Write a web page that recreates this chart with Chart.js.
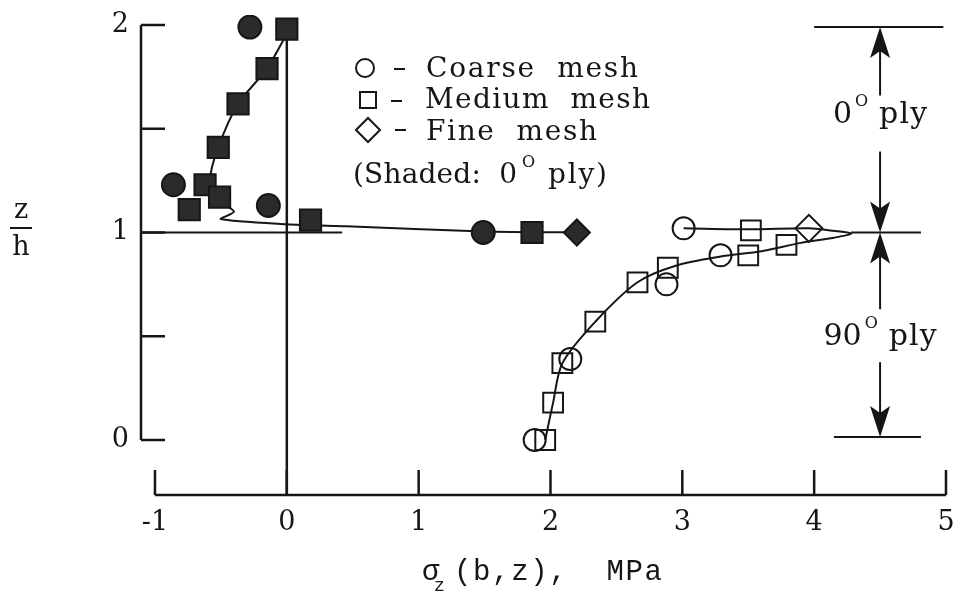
<!DOCTYPE html>
<html>
<head>
<meta charset="utf-8">
<script src="https://cdn.jsdelivr.net/npm/chart.js@4.4.1/dist/chart.umd.min.js"></script>
<style>
  html, body { margin: 0; padding: 0; background: #fff; }
</style>
</head>
<body>
<canvas id="chartStress" width="954" height="598"></canvas>
<script>
// sigma_z(b,z) in MPa against z/h, shaded marks are the 0 deg ply
const coarse0X = [-0.28, -0.86, -0.14, 1.49];
const coarse0Z = [1.99, 1.23, 1.13, 1.00];
const medium0X = [0.00, -0.15, -0.37, -0.52, -0.62, -0.51, -0.74, 0.18, 1.86];
const medium0Z = [1.98, 1.79, 1.62, 1.41, 1.23, 1.17, 1.11, 1.06, 1.00];
const fine0X = [2.20];
const fine0Z = [1.00];

const coarse90X = [1.88, 2.15, 2.88, 3.29, 3.01];
const coarse90Z = [0.00, 0.39, 0.75, 0.89, 1.02];
const medium90X = [1.96, 2.02, 2.09, 2.34, 2.66, 2.89, 3.50, 3.79, 3.52];
const medium90Z = [0.00, 0.18, 0.37, 0.57, 0.76, 0.83, 0.89, 0.94, 1.01];
const fine90X = [3.96];
const fine90Z = [1.02];

// faired curves through the medium mesh results
const curve0X = [0.02, -0.15, -0.37, -0.52, -0.58, -0.52, -0.40, -0.50, 0.00, 0.45, 1.49, 2.30];
const curve0Z = [1.98, 1.79, 1.62, 1.41, 1.26, 1.16, 1.10, 1.065, 1.04, 1.03, 1.005, 1.00];
const curve90X = [1.96, 2.02, 2.09, 2.34, 2.66, 2.95, 3.30, 3.60, 3.90, 4.15, 4.28, 4.12, 3.96, 3.52, 3.01];
const curve90Z = [0.00, 0.18, 0.37, 0.57, 0.76, 0.84, 0.885, 0.91, 0.95, 0.975, 0.995, 1.01, 1.02, 1.015, 1.02];

const xTicks = [-1, 0, 1, 2, 3, 4, 5];
const zTicks = [0, 0.5, 1, 1.5, 2];
const zLabelled = [0, 1, 2];

// ply interface / boundary lines  [x0, x1, z]
const plyLines = [[-1.106, 0.42, 1.0], [4.28, 4.81, 1.0], [4.0, 4.98, 1.99], [4.15, 4.81, 0.015]];
// dimension arrows  [x, zFrom, zTip]
const plyArrows = [[4.5, 1.66, 1.99], [4.5, 1.39, 1.0], [4.5, 0.63, 1.0], [4.5, 0.375, 0.015]];
const plyLabels = [['0', 1.528], ['90', 0.458]];

const xMin = -1.106, xMax = 5.038, zMin = -0.265, zMax = 2.048;
const ink = '#161616';
const shade = '#2b2b2b';
const serif = '"DejaVu Serif", serif';

function pts(xs, zs) { return xs.map((x, i) => ({ x: x, y: zs[i] })); }

function marks(label, xs, zs, style, r, filled) {
    return {
        label: label, data: pts(xs, zs), showLine: false, order: 0,
        pointStyle: style, pointRadius: r, pointHoverRadius: r, borderWidth: 2,
        borderColor: ink, backgroundColor: filled ? shade : 'rgba(0,0,0,0)'
    };
}

function curve(label, xs, zs, tension) {
    return {
        label: label, data: pts(xs, zs), showLine: true, order: 2, tension: tension,
        pointRadius: 0, borderWidth: 2, borderColor: ink, fill: false
    };
}

// draw text spread out to a given width
function spread(ctx, text, x, y, width) {
    ctx.letterSpacing = '0px';
    const n = text.length;
    const w = ctx.measureText(text).width;
    const sp = n > 1 ? (width - w) / (n - 1) : 0;
    ctx.letterSpacing = sp + 'px';
    ctx.fillText(text, x, y);
    ctx.letterSpacing = '0px';
    return x + width;
}

function arrowHead(ctx, x, yTip, dir) {
    ctx.beginPath();
    ctx.moveTo(x, yTip);
    ctx.lineTo(x - 10, yTip + dir * 31);
    ctx.lineTo(x, yTip + dir * 24);
    ctx.lineTo(x + 10, yTip + dir * 31);
    ctx.closePath();
    ctx.fill();
}

const frame = {
    id: 'frame',
    beforeDatasetsDraw(chart) {
        const ctx = chart.ctx, xs = chart.scales.x, ys = chart.scales.y;
        const left = chart.chartArea.left, bottom = chart.chartArea.bottom;
        ctx.save();
        ctx.strokeStyle = ink;
        ctx.lineWidth = 2.5;
        ctx.beginPath();
        ctx.moveTo(xs.getPixelForValue(-1), bottom);
        ctx.lineTo(xs.getPixelForValue(5), bottom);
        xTicks.forEach(v => {
            const px = xs.getPixelForValue(v);
            ctx.moveTo(px, bottom);
            ctx.lineTo(px, bottom - 25);
        });
        ctx.moveTo(left, ys.getPixelForValue(0));
        ctx.lineTo(left, ys.getPixelForValue(2));
        zTicks.forEach(v => {
            const py = ys.getPixelForValue(v);
            ctx.moveTo(left, py);
            ctx.lineTo(left + 24, py);
        });
        ctx.stroke();
        ctx.restore();
    },
    afterDraw(chart) {
        const ctx = chart.ctx, xs = chart.scales.x, ys = chart.scales.y;
        ctx.save();
        ctx.fillStyle = ink;
        ctx.strokeStyle = ink;

        // arrows and ply names on the right
        ctx.lineWidth = 2;
        plyArrows.forEach(a => {
            const px = xs.getPixelForValue(a[0]);
            const y0 = ys.getPixelForValue(a[1]), y1 = ys.getPixelForValue(a[2]);
            const dir = y0 > y1 ? 1 : -1;
            ctx.beginPath();
            ctx.moveTo(px, y0);
            ctx.lineTo(px, y1 + dir * 20);
            ctx.stroke();
            arrowHead(ctx, px, y1, dir);
        });
        ctx.textBaseline = 'alphabetic';
        ctx.textAlign = 'left';
        plyLabels.forEach(p => {
            const cx = xs.getPixelForValue(4.5), by = ys.getPixelForValue(p[1]);
            ctx.font = '30px ' + serif;
            const wNum = ctx.measureText(p[0]).width;
            const total = wNum + 3 + 12 + 12 + 48;
            let x = cx - total / 2;
            ctx.fillText(p[0], x, by);
            x += wNum + 3;
            ctx.font = '16px ' + serif;
            ctx.fillText('O', x, by - 17);
            x += 24;
            ctx.font = '30px ' + serif;
            spread(ctx, 'ply', x, by, 48);
        });

        // legend
        ctx.lineWidth = 2;
        ctx.beginPath();
        ctx.arc(365, 68, 9, 0, Math.PI * 2);
        ctx.stroke();
        ctx.strokeRect(360, 92, 16, 16);
        ctx.beginPath();
        ctx.moveTo(356, 130); ctx.lineTo(368, 118); ctx.lineTo(380, 130); ctx.lineTo(368, 142);
        ctx.closePath();
        ctx.stroke();
        ctx.fillRect(394, 68, 11, 2);
        ctx.fillRect(391, 100, 11, 2);
        ctx.fillRect(395, 129, 11, 2);
        ctx.font = '28px ' + serif;
        spread(ctx, 'Coarse  mesh', 426, 77, 212);
        spread(ctx, 'Medium  mesh', 425, 108, 225);
        spread(ctx, 'Fine  mesh', 426, 140, 171);
        spread(ctx, '(Shaded:  0', 353, 183, 164);
        ctx.font = '16px ' + serif;
        ctx.fillText('O', 522, 167);
        ctx.font = '28px ' + serif;
        spread(ctx, 'ply)', 548, 183, 59);

        // axis titles
        ctx.font = '27px ' + serif;
        ctx.textAlign = 'center';
        ctx.fillText('z', 21, 218);
        ctx.fillText('h', 21, 255);
        ctx.fillRect(10, 227, 22, 2);

        ctx.textAlign = 'left';
        ctx.font = '29px "Liberation Mono", monospace';
        ctx.fillText('\u03c3', 422, 580);
        ctx.font = '18px "Liberation Mono", monospace';
        ctx.fillText('z', 434, 591);
        ctx.font = '29px "Liberation Mono", monospace';
        spread(ctx, '(b,z),  MPa', 454, 580, 208);
        ctx.restore();
    }
};

const datasets = [
    marks('Coarse mesh, 0\u00b0 ply', coarse0X, coarse0Z, 'circle', 11.5, true),
    marks('Medium mesh, 0\u00b0 ply', medium0X, medium0Z, 'rect', 15, true),
    marks('Fine mesh, 0\u00b0 ply', fine0X, fine0Z, 'rectRot', 13, true),
    marks('Coarse mesh, 90\u00b0 ply', coarse90X, coarse90Z, 'circle', 11, false),
    marks('Medium mesh, 90\u00b0 ply', medium90X, medium90Z, 'rect', 14, false),
    marks('Fine mesh, 90\u00b0 ply', fine90X, fine90Z, 'rectRot', 13.5, false),
    curve('0\u00b0 ply curve', curve0X, curve0Z, 0.25),
    curve('90\u00b0 ply curve', curve90X, curve90Z, 0.3),
    {
        label: 'z axis', data: [{ x: 0, y: 2.02 }, { x: 0, y: zMin }], showLine: true, order: 3,
        pointRadius: 0, borderWidth: 2.5, borderColor: ink
    }
];
plyLines.forEach((l, i) => {
    datasets.push({
        label: 'ply line ' + i, data: [{ x: l[0], y: l[2] }, { x: l[1], y: l[2] }], showLine: true,
        order: 3, pointRadius: 0, borderWidth: 2, borderColor: ink
    });
});

// keep the plot box fixed; tick labels may run past it
function noOverhang(s) {
    s.paddingLeft = 0; s.paddingRight = 0; s.paddingTop = 0; s.paddingBottom = 0;
}

const ctx = document.getElementById('chartStress').getContext('2d');
new Chart(ctx, {
    type: 'scatter',
    data: { datasets: datasets },
    options: {
        responsive: false,
        animation: false,
        devicePixelRatio: 1,
        layout: { autoPadding: false, padding: { top: 15, right: 3, left: 0, bottom: 0 } },
        plugins: { legend: { display: false }, tooltip: { enabled: false } },
        scales: {
            x: {
                type: 'linear', min: xMin, max: xMax,
                afterBuildTicks: s => { s.ticks = xTicks.map(v => ({ value: v })); },
                afterFit: s => { s.height = 103; noOverhang(s); },
                grid: { display: false, drawTicks: false },
                border: { display: false },
                ticks: {
                    autoSkip: false, maxRotation: 0, padding: 12, color: ink,
                    font: { family: 'DejaVu Serif', size: 27 },
                    callback: v => String(v)
                }
            },
            y: {
                type: 'linear', min: zMin, max: zMax,
                afterBuildTicks: s => { s.ticks = zTicks.map(v => ({ value: v })); },
                afterFit: s => { s.width = 141; noOverhang(s); },
                grid: { display: false, drawTicks: false },
                border: { display: false },
                ticks: {
                    autoSkip: false, padding: 12, color: ink,
                    font: { family: 'DejaVu Serif', size: 27 },
                    callback: v => zLabelled.includes(v) ? String(v) : ''
                }
            }
        }
    },
    plugins: [frame]
});
</script>
</body>
</html>
